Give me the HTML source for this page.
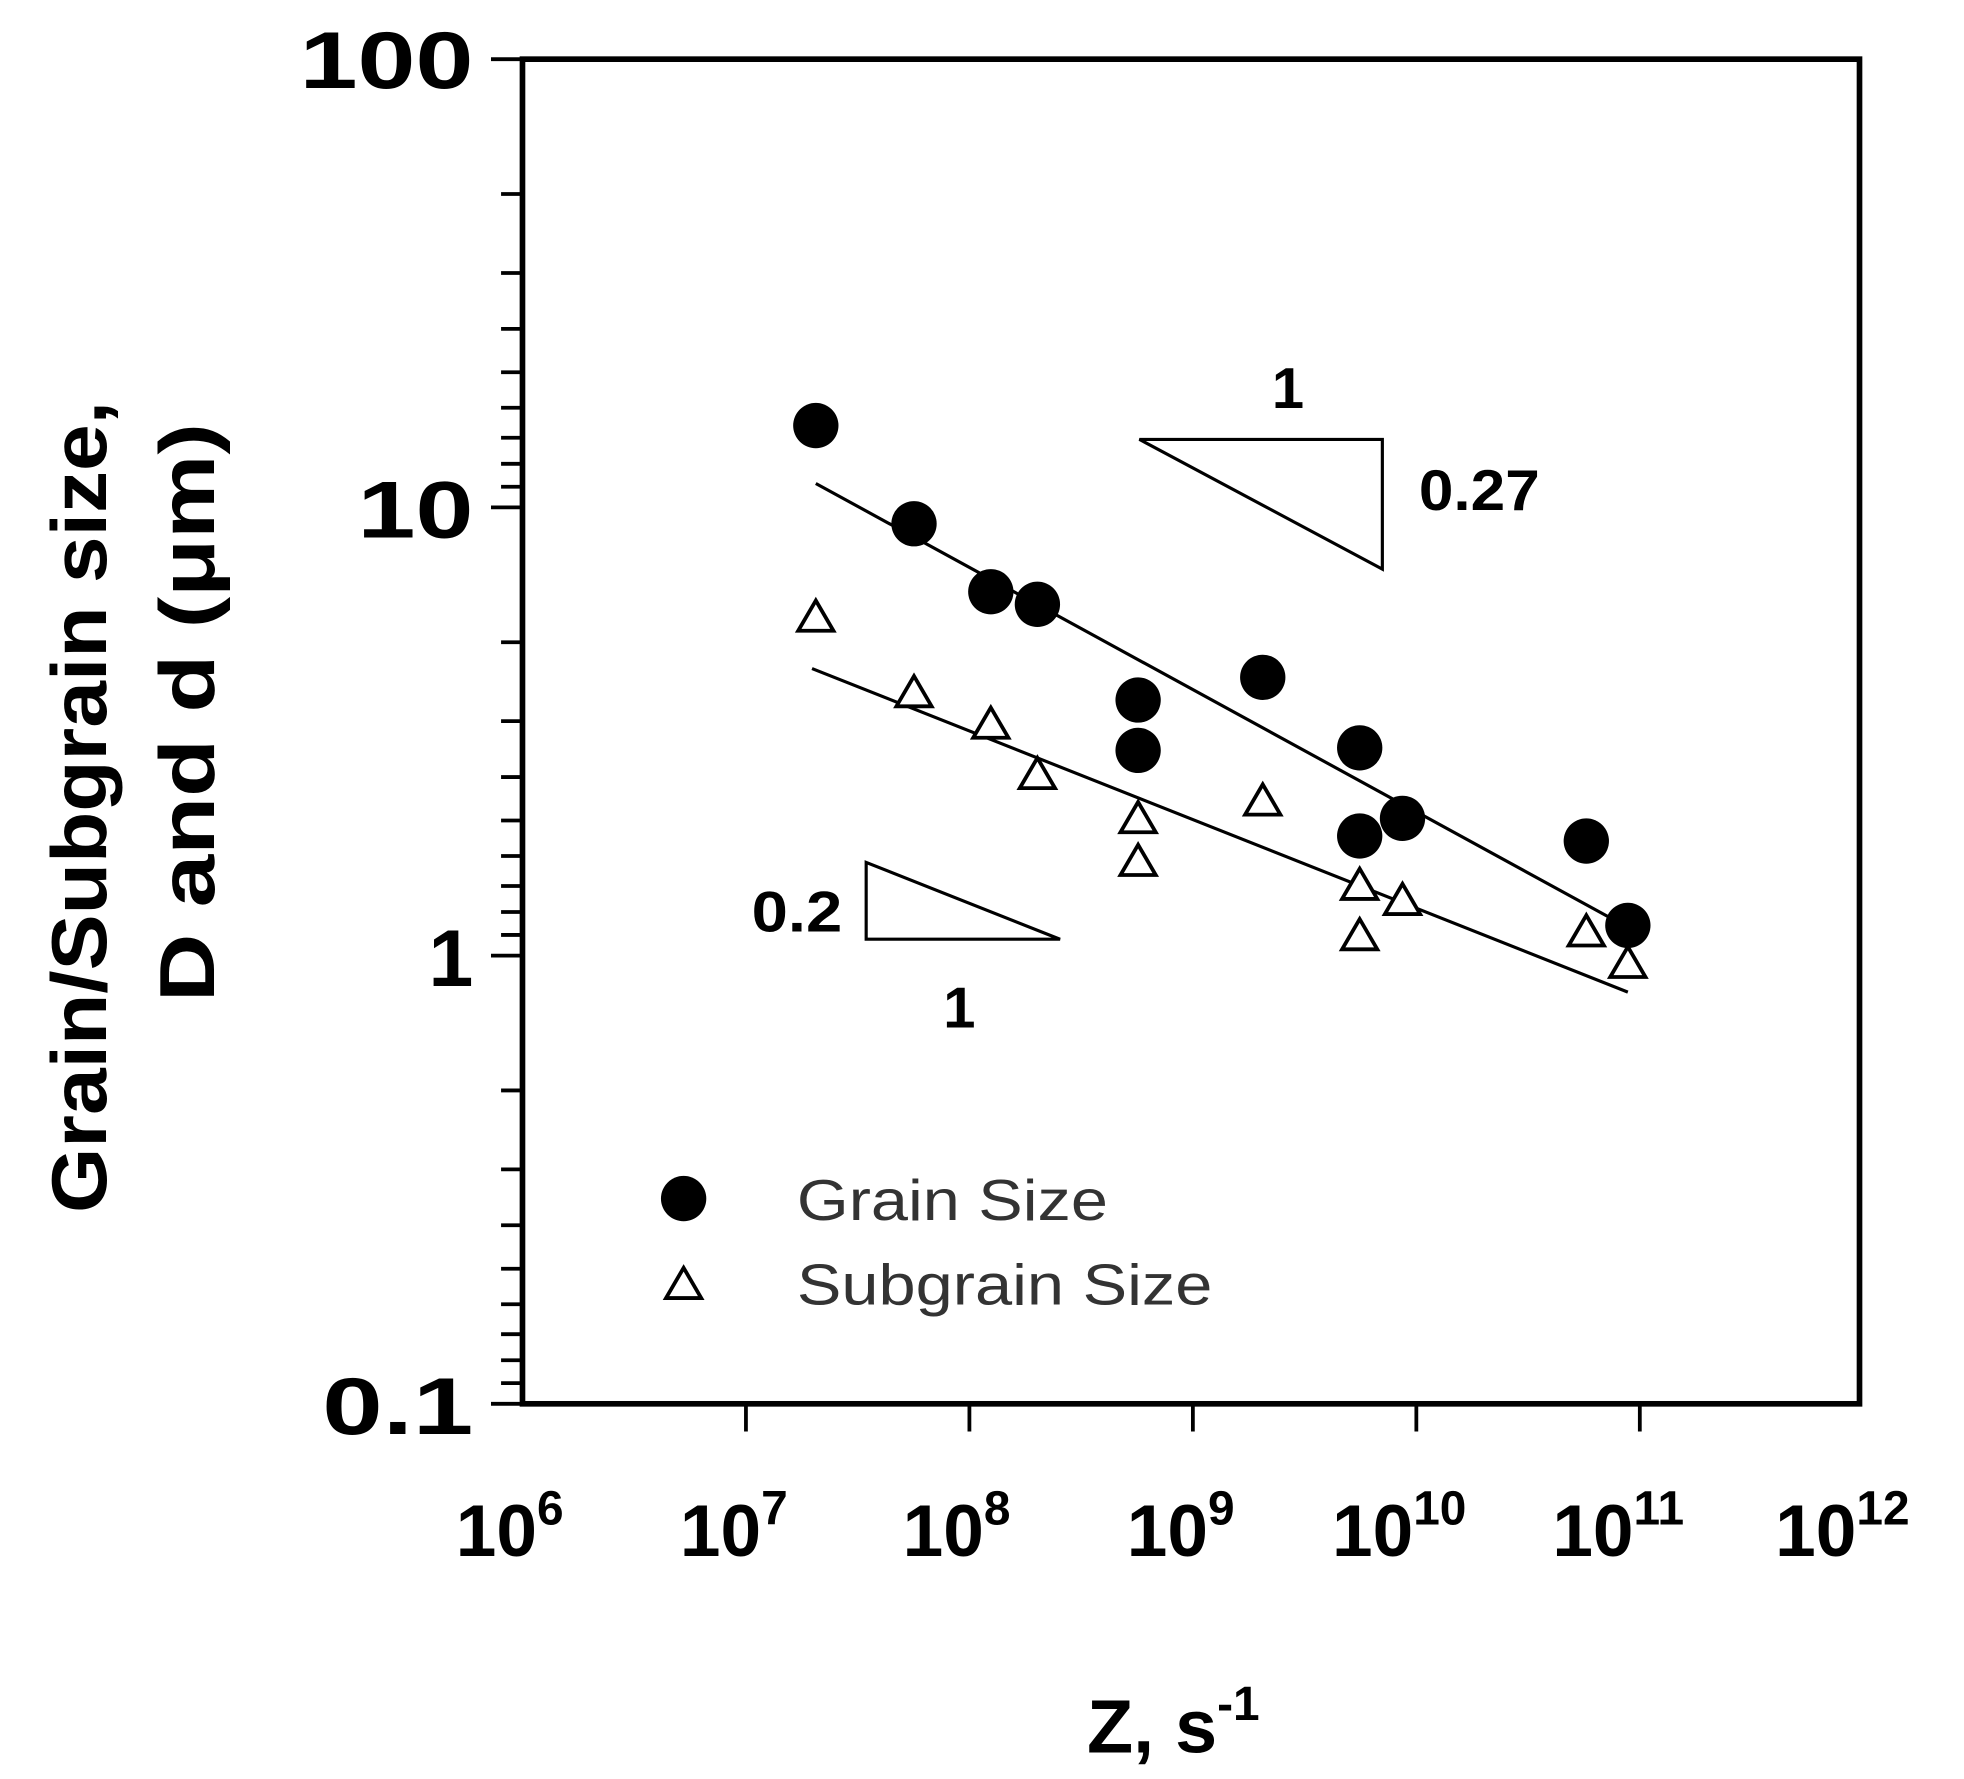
<!DOCTYPE html>
<html><head><style>html,body{margin:0;padding:0;background:#fff}svg{display:block}</style></head>
<body>
<svg width="1964" height="1779" viewBox="0 0 1560 1413" preserveAspectRatio="none" xmlns="http://www.w3.org/2000/svg" font-family="Liberation Sans, Arial, sans-serif">
<rect width="1560" height="1413" fill="#fff"/>
<g stroke="#000" stroke-width="4.5" fill="none">
<rect x="415" y="47" width="1062" height="1068"/>
</g>
<g stroke="#000" stroke-width="3" id="ticks">
<line x1="390" y1="47" x2="415" y2="47"/>
<line x1="390" y1="403" x2="415" y2="403"/>
<line x1="390" y1="759" x2="415" y2="759"/>
<line x1="390" y1="1115" x2="415" y2="1115"/>
<path d="M398 154.1H415M398 216.8H415M398 261.2H415M398 295.7H415M398 323.9H415M398 347.7H415M398 368.4H415M398 386.6H415M398 510.1H415M398 572.8H415M398 617.2H415M398 651.7H415M398 679.9H415M398 703.7H415M398 724.4H415M398 742.6H415M398 866.1H415M398 928.8H415M398 973.2H415M398 1007.7H415M398 1035.9H415M398 1059.7H415M398 1080.4H415M398 1098.6H415"/>
<path d="M592.5 1115V1137M770 1115V1137M947.5 1115V1137M1125 1115V1137M1302.5 1115V1137"/>
</g>
<g font-weight="bold" font-size="64" text-anchor="end" fill="#000">
<text x="376" y="70" textLength="138" lengthAdjust="spacingAndGlyphs">100</text>
<text x="376" y="427" textLength="92" lengthAdjust="spacingAndGlyphs">10</text>
<text x="376" y="783">1</text>
<text x="376" y="1139" textLength="120" lengthAdjust="spacingAndGlyphs">0.1</text>
</g>
<g font-weight="bold" font-size="58" fill="#000">
<text x="362" y="1236">10<tspan font-size="38" dy="-25">6</tspan></text>
<text x="540" y="1236">10<tspan font-size="38" dy="-25">7</tspan></text>
<text x="717" y="1236">10<tspan font-size="38" dy="-25">8</tspan></text>
<text x="895" y="1236">10<tspan font-size="38" dy="-25">9</tspan></text>
<text x="1058" y="1236">10<tspan font-size="38" dy="-25">10</tspan></text>
<text x="1233" y="1236">10<tspan font-size="38" dy="-25">11</tspan></text>
<text x="1410" y="1236">10<tspan font-size="38" dy="-25">12</tspan></text>
</g>
<text x="932" y="1392" font-weight="bold" font-size="60" text-anchor="middle">Z, s<tspan font-size="38" dy="-26">-1</tspan></text>
<g font-weight="bold" font-size="62" text-anchor="middle">
<text transform="translate(84,641) rotate(-90)" textLength="645" lengthAdjust="spacingAndGlyphs">Grain/Subgrain size,</text>
<text transform="translate(170,566) rotate(-90)" textLength="460" lengthAdjust="spacingAndGlyphs">D and d (μm)</text>
</g>
<g stroke="#000" stroke-width="2.5" fill="none">
<line x1="648" y1="384" x2="1290" y2="735"/>
<line x1="645" y1="531" x2="1293" y2="788"/>
<path d="M905 349H1098V452Z"/>
<path d="M688 685V746H842Z"/>
</g>
<g font-weight="bold" font-size="46">
<text x="1023" y="324" text-anchor="middle">1</text>
<text x="1127" y="405" textLength="96" lengthAdjust="spacingAndGlyphs">0.27</text>
<text x="597" y="740" textLength="72" lengthAdjust="spacingAndGlyphs">0.2</text>
<text x="762" y="816" text-anchor="middle">1</text>
</g>
<g fill="#000">
<circle cx="648" cy="338" r="18"/><circle cx="726" cy="416" r="18"/><circle cx="787" cy="470" r="18"/><circle cx="824" cy="480" r="18"/><circle cx="904" cy="556" r="18"/><circle cx="904" cy="596" r="18"/><circle cx="1003" cy="538" r="18"/><circle cx="1080" cy="594" r="18"/><circle cx="1080" cy="664" r="18"/><circle cx="1114" cy="650" r="18"/><circle cx="1260" cy="668" r="18"/><circle cx="1293" cy="735" r="18"/>
<circle cx="543" cy="952" r="18"/>
</g>
<g fill="#fff" stroke="#000" stroke-width="3">
<path d="M648 477l-14 24h28z"/><path d="M726 537l-14 24h28z"/><path d="M787 562l-14 24h28z"/><path d="M824 602l-14 24h28z"/><path d="M904 637l-14 24h28z"/><path d="M904 671l-14 24h28z"/><path d="M1003 623l-14 24h28z"/><path d="M1080 690l-14 24h28z"/><path d="M1080 730l-14 24h28z"/><path d="M1114 702l-14 24h28z"/><path d="M1260 727l-14 24h28z"/><path d="M1293 752l-14 24h28z"/>
<path d="M543 1007l-14 24h28z"/>
</g>
<g font-size="46" fill="#333">
<text x="633" y="969" textLength="247" lengthAdjust="spacingAndGlyphs">Grain Size</text>
<text x="633" y="1036" textLength="330" lengthAdjust="spacingAndGlyphs">Subgrain Size</text>
</g>
</svg>
</body></html>
